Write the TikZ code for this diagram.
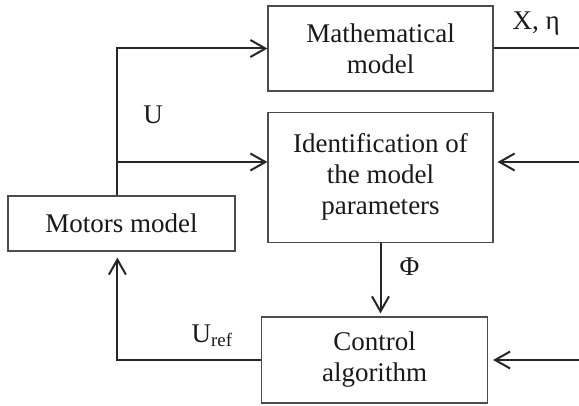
\documentclass[tikz,border=0pt]{standalone}
\usepackage{fontspec}
\setmainfont{Liberation Serif}
\usetikzlibrary{positioning, calc, arrows.meta}

\begin{document}
\begin{tikzpicture}[
    x=1pt, y=-1pt,
    box/.style={rectangle, draw=black!70, line width=1.2pt, align=center, inner sep=0pt, text=black!90, font=\fontsize{27}{31}\selectfont},
    sig_arrow/.style={-{Straight Barb[length=15pt, width=17pt]}, line width=2pt, black!85, shorten >=3pt},
    sig_line/.style={line width=2pt, black!85},
    label_style/.style={font=\fontsize{27}{31}\selectfont, inner sep=0pt, text=black!90}
]
    \useasboundingbox (0,0) rectangle (579,406);

    % Blocks
    \node[box, minimum width=225pt, minimum height=85pt] (Math) at (380.5,48.5) {Mathematical\\model};
    \node[box, minimum width=225pt, minimum height=130pt, below=20pt of Math] (Ident) {Identification of\\the model\\parameters};
    \node[box, minimum width=227pt, minimum height=55pt] (Motors) at (121.5,223.5) {Motors model};
    \node[box, minimum width=226pt, minimum height=86pt] (Control) at (374.5,360) {Control\\algorithm};

    % Free ends and branch point
    \coordinate (split) at ($(Motors.north west)+(110,0)$);
    \coordinate (outMath) at (579,48.5);
    \coordinate (inIdent) at (579,162);
    \coordinate (inControl) at (579,360);

    % Signals
    \draw[sig_arrow, shorten >=0pt] (split) |- node[pos=0.275, right=25pt, label_style] {U} (Math.west);
    \draw[sig_arrow, shorten >=0pt] (split |- inIdent) -- (Ident.west |- inIdent);
    \draw[sig_line] (Math.east) -- node[above=12pt, label_style] {X, η} (outMath);
    \draw[sig_arrow, shorten >=4pt] (inIdent) -- (Ident.east |- inIdent);
    \draw[sig_arrow, shorten >=5pt] (inControl) -- (Control.east);
    \draw[sig_arrow] (Ident.south) -- node[pos=0.33, right=18pt, label_style] {Φ} (Ident.south |- Control.north);
    \draw[sig_arrow, shorten >=6pt] (Control.west) -| node[pos=0.17, above=12pt, label_style] {U\textsubscript{ref}} (split |- Motors.south);
\end{tikzpicture}
\end{document}
